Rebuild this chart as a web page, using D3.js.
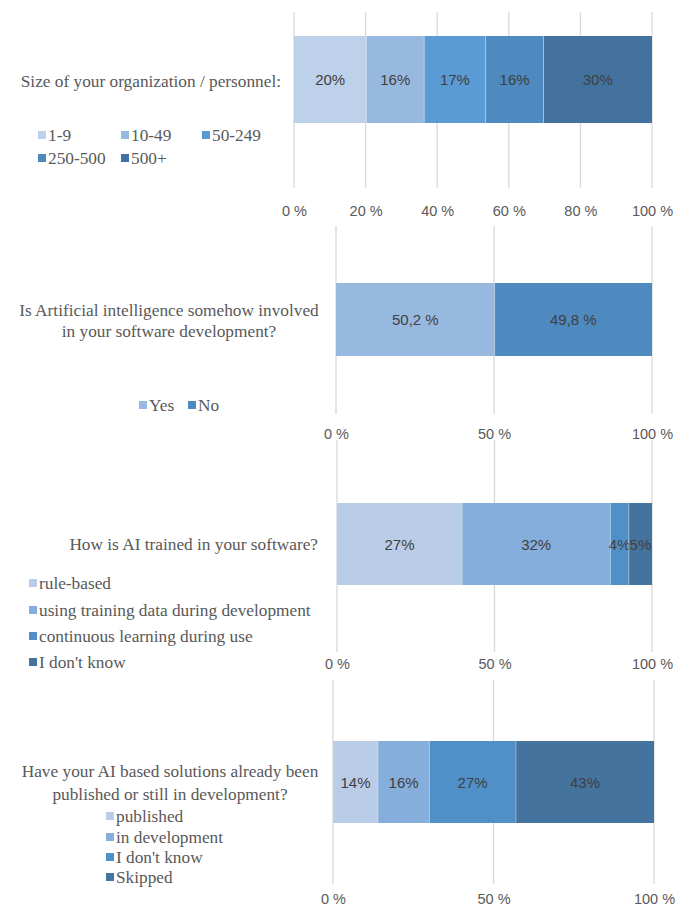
<!DOCTYPE html>
<html>
<head>
<meta charset="utf-8">
<script src="https://cdn.jsdelivr.net/npm/d3@7"></script>
<style>
html,body{margin:0;padding:0;background:#fff;}
svg{display:block;}
</style>
</head>
<body>
<svg id="chart" width="675" height="908"></svg>
<script>
// ---- data ----
const questions = [
  ["Size of your organization / personnel:"],
  ["Is Artificial intelligence somehow involved", "in your software development?"],
  ["How is AI trained in your software?"],
  ["Have your AI based solutions already been", "published or still in development?"]
];
const sizeSeries = ["1-9", "10-49", "50-249", "250-500", "500+"];
const sizeValues = [20, 16, 17, 16, 30];
const aiSeries = ["Yes", "No"];
const aiValues = [50.2, 49.8];
const trainSeries = ["rule-based", "using training data during development", "continuous learning during use", "I don't know"];
const trainValues = [27, 32, 4, 5];
const publishSeries = ["published", "in development", "I don't know", "Skipped"];
const publishValues = [14, 16, 27, 43];
const tickValues1 = [0, 20, 40, 60, 80, 100];
const tickValues2 = [0, 50, 100];

// ---- styles / layout (not data) ----
const colors1 = ["#bed1ea", "#98b9df", "#5b9bd5", "#4e89bf", "#42729d"];
const colors2 = ["#98b9df", "#4e89bf"];
const colors3 = ["#b9cde8", "#86aedc", "#5090c8", "#44739e"];
const fmtInt = v => v + "%";
const fmtDec = v => v.toFixed(1).replace(".", ",") + " %";

const panels = [
  {q: questions[0], series: sizeSeries, values: sizeValues, colors: colors1, fmt: fmtInt, ticks: tickValues1,
   x0: 294, x1: 652, gTop: 12, gBot: 188, bTop: 36, bBot: 123, tickY: 211,
   label: {anchor: "end", x: 281, ys: [81]},
   legend: [[38,135],[121,135],[202,135],[38,158],[121,158]]},
  {q: questions[1], series: aiSeries, values: aiValues, colors: colors2, fmt: fmtDec, ticks: tickValues2,
   x0: 336, x1: 652, gTop: 226, gBot: 414, bTop: 283, bBot: 356, tickY: 434,
   label: {anchor: "middle", x: 169, ys: [310, 331]},
   legend: [[139,405],[188,405]]},
  {q: questions[2], series: trainSeries, values: trainValues, colors: colors3, fmt: fmtInt, ticks: tickValues2,
   x0: 337, x1: 652, gTop: 440, gBot: 652, bTop: 503, bBot: 585, tickY: 664,
   label: {anchor: "end", x: 318, ys: [544]},
   legend: [[29,583],[29,610],[29,636],[29,662]]},
  {q: questions[3], series: publishSeries, values: publishValues, colors: colors3, fmt: fmtInt, ticks: tickValues2,
   x0: 333, x1: 654, gTop: 680, gBot: 884, bTop: 741, bBot: 823, tickY: 899,
   label: {anchor: "middle", x: 170, ys: [771, 794]},
   legend: [[106,816],[106,837],[106,857],[106,877]]}
];

const serif = "'Liberation Serif', 'Times New Roman', serif";
const sans = "'Liberation Sans Narrow', 'Liberation Sans', Arial, sans-serif";

const svg = d3.select("#chart");

panels.forEach(p => {
  const g = svg.append("g");
  const x = d3.scaleLinear().domain([0, 100]).range([p.x0, p.x1]);

  // gridlines
  g.selectAll("line.grid").data(p.ticks).enter().append("line")
    .attr("x1", d => x(d)).attr("x2", d => x(d))
    .attr("y1", p.gTop).attr("y2", p.gBot)
    .attr("stroke", "#d9d9d9").attr("stroke-width", 1.3);

  // axis tick labels
  const axis = d3.axisBottom(x).tickValues(p.ticks).tickFormat(d => d + " %").tickSize(0).tickPadding(0);
  const ag = g.append("g").attr("transform", `translate(0,${p.tickY})`).call(axis);
  ag.select(".domain").remove();
  ag.selectAll("text").attr("fill", "#595959").style("font-family", sans).style("font-size", "14.5px")
    .attr("y", 0).attr("dy", null).attr("dominant-baseline", "central");

  // stacked bar (100% stacked)
  const row = {};
  p.series.forEach((s, i) => row[s] = p.values[i]);
  const stack = d3.stack().keys(p.series).offset(d3.stackOffsetExpand);
  const layers = stack([row]);
  const bar = g.append("g");
  layers.forEach((layer, i) => {
    const seg = layer[0];
    const xa = x(seg[0] * 100), xb = x(seg[1] * 100);
    bar.append("rect")
      .attr("x", xa).attr("y", p.bTop)
      .attr("width", xb - xa).attr("height", p.bBot - p.bTop)
      .attr("fill", p.colors[i]);
    bar.append("text")
      .attr("x", (xa + xb) / 2).attr("y", (p.bTop + p.bBot) / 2)
      .attr("text-anchor", "middle").attr("dominant-baseline", "central")
      .attr("fill", "#404040")
      .style("font-family", sans).style("font-size", "15px")
      .text(p.fmt(p.values[i]));
  });
  // thin white separators
  layers.forEach((layer, i) => {
    if (i === 0) return;
    const xs = x(layer[0][0] * 100);
    bar.append("line").attr("x1", xs).attr("x2", xs).attr("y1", p.bTop).attr("y2", p.bBot)
      .attr("stroke", "#ffffff").attr("stroke-width", 0.6).attr("stroke-opacity", 0.6);
  });

  // category label
  const lt = g.append("text")
    .attr("text-anchor", p.label.anchor)
    .attr("fill", "#595959")
    .style("font-family", serif).style("font-size", "17.3px");
  p.q.forEach((line, i) => {
    lt.append("tspan").attr("x", p.label.x).attr("y", p.label.ys[i]).attr("dominant-baseline", "central").text(line);
  });

  // legend
  const lg = g.append("g");
  p.series.forEach((s, i) => {
    const [lx, ly] = p.legend[i];
    lg.append("rect").attr("x", lx).attr("y", ly - 4).attr("width", 8).attr("height", 8).attr("fill", p.colors[i]);
    lg.append("text").attr("x", lx + 10).attr("y", ly).attr("dominant-baseline", "central")
      .attr("fill", "#595959").style("font-family", serif).style("font-size", "17.3px").text(s);
  });
});
</script>
</body>
</html>
